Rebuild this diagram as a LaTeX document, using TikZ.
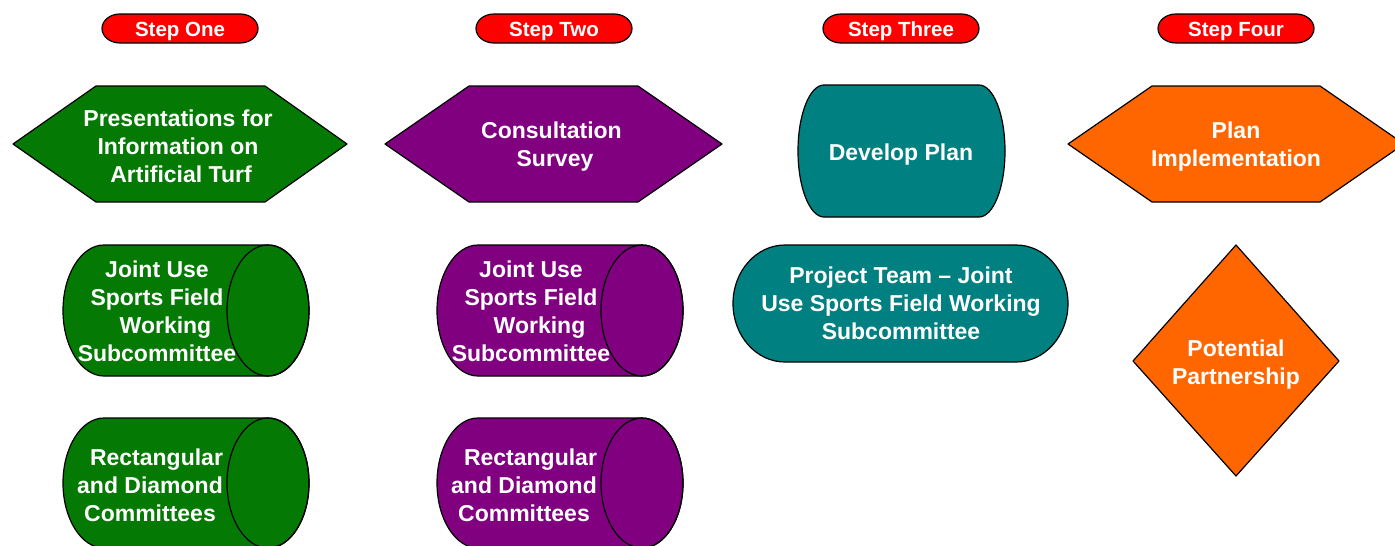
\documentclass[tikz,border=0pt]{standalone}
\usepackage{fontspec}
\setmainfont{Liberation Sans}
\definecolor{cgreen}{RGB}{4,122,4}
\definecolor{cpurple}{RGB}{128,0,128}
\definecolor{cteal}{RGB}{0,128,128}
\definecolor{corange}{RGB}{255,102,0}
\definecolor{cred}{RGB}{255,0,0}
\begin{document}
\begin{tikzpicture}[x=1pt,y=1pt,yscale=-1,
  outline/.style={draw=black,line width=1.2pt,line join=round},
  maintext/.style={text=white,font=\bfseries\fontsize{23}{28}\selectfont,align=center,anchor=base,inner sep=0pt},
  steptext/.style={text=white,font=\bfseries\fontsize{20.5}{24}\selectfont,anchor=base,inner sep=0pt}]
\clip (0,0) rectangle (1395,546);
\fill[white] (0,0) rectangle (1395,546);

% ---- step pills
\foreach \cx/\nm/\lbl in {180/s1/Step One,554/s2/Step Two,901/s3/Step Three,1236/s4/Step Four}{
  \draw[outline,fill=cred] (\cx-60,14) -- (\cx+60,14)
    arc[start angle=-90,end angle=90,x radius=18pt,y radius=14.5pt]
    -- (\cx-60,43)
    arc[start angle=90,end angle=270,x radius=18pt,y radius=14.5pt] -- cycle;
  \node[steptext] (\nm) at (\cx,36.5) {\lbl};
}

% ---- hexagons
\draw[outline,fill=cgreen] (13,144) -- (96,86) -- (265,86) -- (347,144) -- (265,202) -- (96,202) -- cycle;
\node[maintext] (h1) at (178,182) {Presentations for\\Information on\\\hspace*{6pt}Artificial Turf};

\draw[outline,fill=cpurple] (385,144) -- (469,86) -- (638,86) -- (722,144) -- (638,202) -- (469,202) -- cycle;
\node[maintext] (h2) at (551.5,166.5) {Consultation\\\hspace*{7pt}Survey};

\draw[outline,fill=corange] (1068,144) -- (1152,86) -- (1320,86) -- (1404,144) -- (1320,202) -- (1152,202) -- cycle;
\node[maintext] (h4) at (1236,166.5) {Plan\\Implementation};

% ---- cylinders
\foreach \dx/\col/\cy/\ry in {0/cgreen/310.5/65.5,374/cpurple/310.5/65.5,0/cgreen/483/65,374/cpurple/483/65}{
  \draw[outline,fill=\col] (104+\dx,\cy-\ry) -- (268+\dx,\cy-\ry)
    arc[start angle=-90,end angle=90,x radius=41pt,y radius=\ry pt]
    -- (104+\dx,\cy+\ry)
    arc[start angle=90,end angle=270,x radius=41pt,y radius=\ry pt] -- cycle;
  \draw[outline] (268+\dx,\cy) ellipse[x radius=41pt,y radius=\ry pt];
}
\node[maintext] (c1) at (157,361) {Joint Use\\Sports Field\\\hspace*{17pt}Working\\Subcommittee};
\node[maintext] (c2) at (150,521) {\hspace*{13pt}Rectangular\\and Diamond\\Committees};
\node[maintext] (c3) at (531,361) {Joint Use\\Sports Field\\\hspace*{17pt}Working\\Subcommittee};
\node[maintext] (c4) at (524,521) {\hspace*{13pt}Rectangular\\and Diamond\\Committees};

% ---- develop plan
\draw[outline,fill=cteal] (824,85) -- (979,85)
  arc[start angle=-90,end angle=90,x radius=26pt,y radius=66pt]
  -- (824,217)
  arc[start angle=90,end angle=270,x radius=26pt,y radius=66pt] -- cycle;
\node[maintext] (dp) at (901,160) {Develop Plan};

% ---- project team
\draw[outline,fill=cteal] (785,245) -- (1016,245)
  arc[start angle=-90,end angle=90,x radius=52pt,y radius=58.5pt]
  -- (785,362)
  arc[start angle=90,end angle=270,x radius=52pt,y radius=58.5pt] -- cycle;
\node[maintext] (pt) at (901,339) {Project Team -- Joint\\Use Sports Field Working\\Subcommittee};

% ---- diamond
\draw[outline,fill=corange] (1236,245) -- (1339,361) -- (1236,476) -- (1133,361) -- cycle;
\node[maintext] (pp) at (1236,384) {Potential\\Partnership};
\end{tikzpicture}
\end{document}
